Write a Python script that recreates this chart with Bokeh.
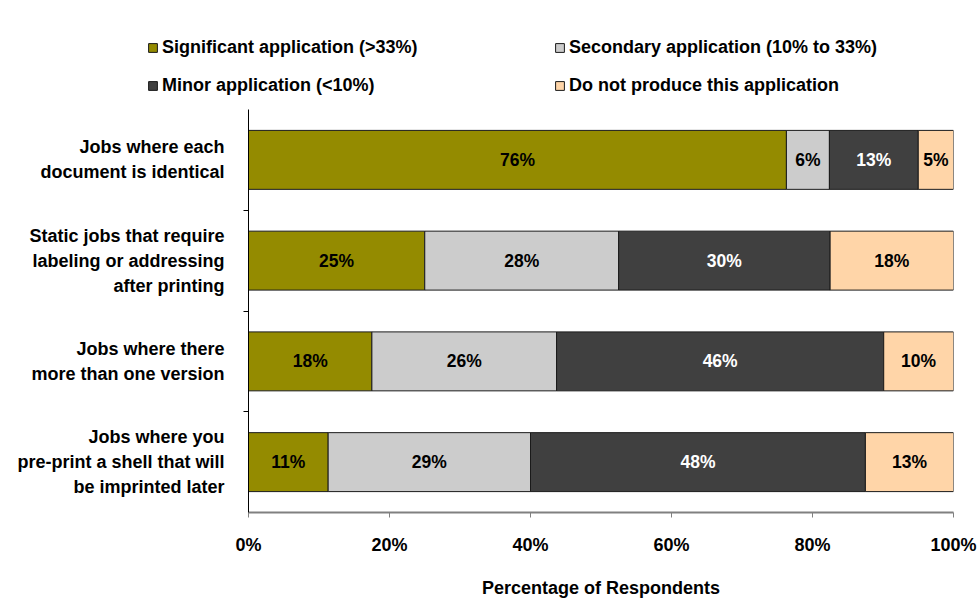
from bokeh.plotting import figure
from bokeh.layouts import column, row
from bokeh.models import (ColumnDataSource, FixedTicker, Legend, LegendItem,
                          Range1d, PrintfTickFormatter)
from bokeh.core.properties import value
from bokeh.embed import file_html
from bokeh.resources import INLINE

# ---------------- data ----------------
categories = [
    "Jobs where each\ndocument is identical",
    "Static jobs that require\nlabeling or addressing\nafter printing",
    "Jobs where there\nmore than one version",
    "Jobs where you\npre-print a shell that will\nbe imprinted later",
]
significant = [76.3, 25.0, 17.5, 11.3]
secondary = [6.1, 27.5, 26.2, 28.7]
minor = [12.6, 30.0, 46.4, 47.5]
not_produced = [5.0, 17.5, 9.9, 12.5]

series_names = [
    "Significant application (>33%)",
    "Secondary application (10% to 33%)",
    "Minor application (<10%)",
    "Do not produce this application",
]
series_colors = ["#948B00", "#CCCCCC", "#404040", "#FFD5A8"]
label_colors = ["black", "black", "white", "black"]
x_ticks = [0, 20, 40, 60, 80, 100]
x_title = "Percentage of Respondents"

FONT = "Liberation Sans"
EDGE = "#1a1a1a"

# ---------------- main chart ----------------
n = len(categories)
ypos = [n - i - 0.5 for i in range(n)]
series = [significant, secondary, minor, not_produced]
keys = ["s0", "s1", "s2", "s3"]

data = {"y": ypos}
for k, s in zip(keys, series):
    data[k] = s
src = ColumnDataSource(data)

p = figure(width=979, height=491, x_range=Range1d(0, 100), y_range=Range1d(0, n),
           output_backend="svg", toolbar_location=None,
           min_border_left=248, min_border_right=26, min_border_top=0,
           min_border_bottom=81)
p.outline_line_color = None
p.xgrid.visible = False
p.ygrid.visible = False
p.background_fill_color = "white"
p.border_fill_color = "white"

renderers = p.hbar_stack(keys, y="y", height=0.585, color=series_colors,
                         line_color=EDGE, line_width=1, source=src)

# segment labels
lx, ly, lt, lc = [], [], [], []
left = [0.0] * n
for s, col in zip(series, label_colors):
    for i in range(n):
        lx.append(left[i] + s[i] / 2.0)
        ly.append(ypos[i])
        lt.append("%d%%" % int(s[i] + 0.5))
        lc.append(col)
        left[i] += s[i]
lsrc = ColumnDataSource(dict(x=lx, y=ly, text=lt, color=lc))
p.text(x="x", y="y", text="text", text_color="color", source=lsrc,
       text_align="center", text_baseline="middle",
       text_font=value(FONT), text_font_style="bold", text_font_size="17.5px")

# x axis
xa = p.xaxis[0]
xa.ticker = FixedTicker(ticks=x_ticks)
xa.formatter = PrintfTickFormatter(format="%d%%")
xa.axis_line_color = "#808080"
xa.axis_line_width = 2
xa.major_tick_line_color = "#808080"
xa.major_tick_line_width = 1
xa.major_tick_out = 5
xa.major_tick_in = 0
xa.minor_tick_line_color = None
xa.major_label_standoff = 17
xa.major_label_text_font = FONT
xa.major_label_text_font_style = "bold"
xa.major_label_text_font_size = "18px"
xa.major_label_text_color = "black"
xa.axis_label = x_title
xa.axis_label_text_font = FONT
xa.axis_label_text_font_style = "bold"
xa.axis_label_text_font_size = "18px"
xa.axis_label_text_color = "black"
xa.axis_label_standoff = 20

# y axis
ya = p.yaxis[0]
ya.ticker = FixedTicker(ticks=ypos, minor_ticks=list(range(1, n)))
ya.major_label_overrides = {y: c for y, c in zip(ypos, categories)}
ya.axis_line_color = "black"
ya.axis_line_width = 1
ya.major_tick_line_color = None
ya.minor_tick_line_color = "black"
ya.minor_tick_out = 5
ya.minor_tick_in = 0
ya.major_label_standoff = 18
ya.major_label_text_font = FONT
ya.major_label_text_font_style = "bold"
ya.major_label_text_font_size = "18px"
ya.major_label_text_color = "black"
ya.major_label_text_line_height = 1.25

# ---------------- legend strip ----------------
lg = figure(width=979, height=109, x_range=Range1d(0, 1), y_range=Range1d(0, 1),
            output_backend="svg", toolbar_location=None,
            x_axis_type=None, y_axis_type=None,
            min_border_left=0, min_border_right=0, min_border_top=0,
            min_border_bottom=0)
lg.outline_line_color = None
lg.xgrid.visible = False
lg.ygrid.visible = False
lg.background_fill_color = "white"
lg.border_fill_color = "white"

# zero-size swatch renderers: they only give the legend its colours
swatches = [lg.hbar(y=[0], left=[0], right=[0], height=0, fill_color=c,
                    line_color=EDGE, line_width=1) for c in series_colors]
items = [LegendItem(label=nm, renderers=[r]) for nm, r in zip(series_names, swatches)]
legend = Legend(items=items, location=(147, 13), orientation="horizontal", ncols=2,
                glyph_width=11, glyph_height=11, label_height=20, spacing=17,
                label_standoff=4, label_width=375, padding=0, margin=0,
                border_line_color=None, background_fill_alpha=0,
                label_text_font=FONT, label_text_font_style="bold",
                label_text_font_size="18px", label_text_color="black")
lg.add_layout(legend, "center")

layout = column(row(lg), p, spacing=0)
open("out.html", "w").write(file_html(layout, INLINE))
